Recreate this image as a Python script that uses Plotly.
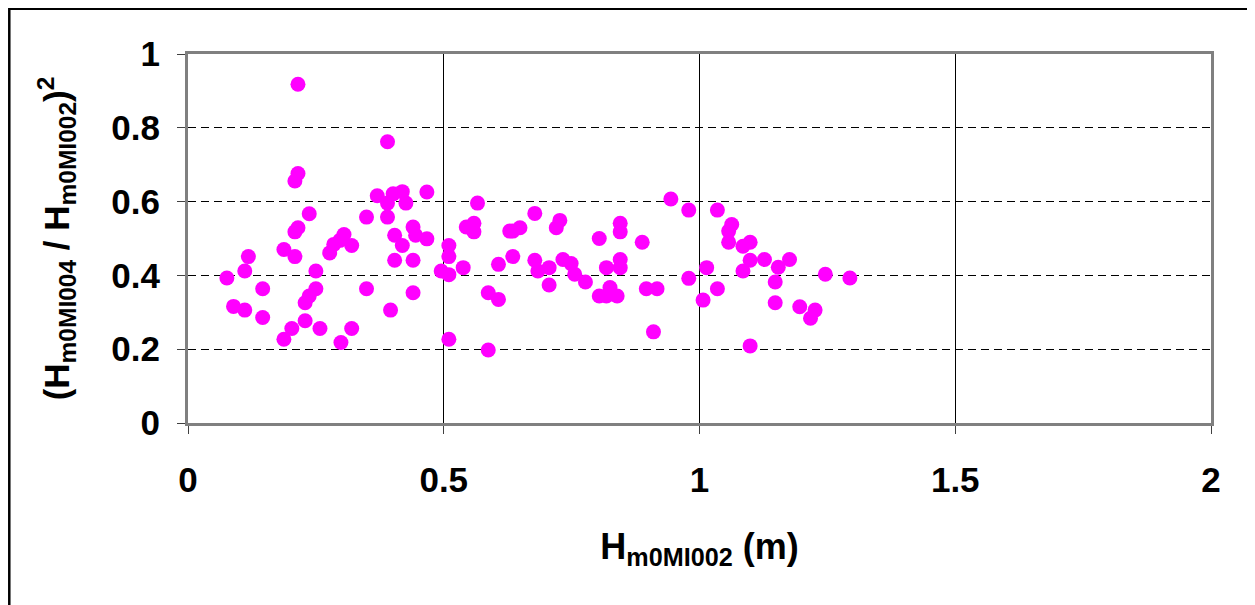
import plotly.graph_objects as go

# Data
h_m0mi002 = [0.215, 0.390, 0.215, 0.209, 0.370, 0.401, 0.419, 0.390, 0.426, 0.467,
             0.566, 0.237, 0.349, 0.390, 0.215, 0.209, 0.440, 0.445, 0.467, 0.404,
             0.419, 0.544, 0.559, 0.559, 0.1875, 0.209, 0.118, 0.111, 0.076, 0.146,
             0.089, 0.111, 0.146, 0.1875, 0.203, 0.229, 0.229, 0.237, 0.250, 0.250,
             0.258, 0.277, 0.285, 0.297, 0.305, 0.320, 0.299, 0.320, 0.349, 0.396,
             0.404, 0.440, 0.440, 0.510, 0.510, 0.495, 0.510, 0.538, 0.510, 0.587,
             0.607, 0.587, 0.607, 0.629, 0.635, 0.649, 0.635, 0.678, 0.678, 0.684,
             0.706, 0.706, 0.727, 0.720, 0.733, 0.749, 0.756, 0.777, 0.804, 0.804,
             0.818, 0.825, 0.839, 0.818, 0.845, 0.845, 0.845, 0.845, 0.888, 0.896,
             0.917, 0.910, 0.944, 0.979, 0.979, 1.014, 1.007, 1.035, 1.035, 1.063,
             1.057, 1.057, 1.085, 1.099, 1.099, 1.085, 1.099, 1.127, 1.154, 1.176,
             1.148, 1.148, 1.196, 1.226, 1.217, 1.246, 1.294]
ratio_sq = [0.918, 0.762, 0.676, 0.656, 0.616, 0.621, 0.627, 0.596, 0.596, 0.626,
            0.596, 0.567, 0.558, 0.558, 0.529, 0.518, 0.531, 0.509, 0.499, 0.509,
            0.481, 0.531, 0.541, 0.518, 0.470, 0.451, 0.451, 0.412, 0.393, 0.364,
            0.316, 0.306, 0.286, 0.227, 0.256, 0.277, 0.326, 0.344, 0.364, 0.412,
            0.256, 0.461, 0.484, 0.495, 0.511, 0.481, 0.218, 0.256, 0.364, 0.306,
            0.441, 0.441, 0.353, 0.481, 0.451, 0.412, 0.402, 0.421, 0.227, 0.353,
            0.335, 0.198, 0.430, 0.520, 0.520, 0.529, 0.451, 0.568, 0.441, 0.412,
            0.421, 0.374, 0.549, 0.529, 0.443, 0.432, 0.403, 0.382, 0.500, 0.344,
            0.344, 0.367, 0.344, 0.421, 0.541, 0.518, 0.443, 0.421, 0.490, 0.364,
            0.364, 0.247, 0.607, 0.577, 0.392, 0.421, 0.333, 0.577, 0.364, 0.538,
            0.520, 0.490, 0.479, 0.490, 0.441, 0.412, 0.209, 0.443, 0.422, 0.443,
            0.382, 0.326, 0.315, 0.306, 0.284, 0.403, 0.393]

x_ticks = [0, 0.5, 1, 1.5, 2]
x_tick_labels = ["0", "0.5", "1", "1.5", "2"]
y_ticks = [0, 0.2, 0.4, 0.6, 0.8, 1]
y_tick_labels = ["0", "0.2", "0.4", "0.6", "0.8", "1"]

W, H = 1255, 605
# the page draws the figure with an 8px body offset; margins account for it
OFF = 8
L, T = 188 - OFF, 53.5 - OFF
R = W - (1211.5 - OFF)
B = H - (423.5 - OFF)
pw, ph = W - L - R, H - T - B

FONT = "Liberation Sans, Arial, sans-serif"

fig = go.Figure(go.Scatter(
    x=h_m0mi002, y=ratio_sq, mode="markers",
    marker=dict(color="#FF00FF", size=15, line=dict(width=0)),
    showlegend=False, cliponaxis=False,
))

def fx(p):  # figure pixel -> paper x
    return (p - L) / pw

def fy(p):  # figure pixel (from top) -> paper y
    return (H - B - p) / ph

fig.update_layout(
    width=W, height=H,
    margin=dict(l=L, r=R, t=T, b=B, pad=0),
    paper_bgcolor="white", plot_bgcolor="white",
    font=dict(family=FONT, color="black", size=35, weight="bold"),
    shapes=[dict(type="rect", xref="paper", yref="paper",
                 x0=fx(1.2), x1=fx(W + 20),
                 y0=fy(H + 20), y1=fy(0.2),
                 line=dict(color="black", width=2.5), fillcolor="rgba(0,0,0,0)",
                 layer="below")],
)

fig.update_xaxes(
    range=[0, 2], tickvals=x_ticks, ticktext=x_tick_labels,
    showgrid=True, gridcolor="black", gridwidth=1,
    zeroline=False,
    showline=True, linecolor="#808080", linewidth=3, mirror=True,
    ticks="outside", ticklen=8, tickcolor="#404040", tickwidth=1,
    ticklabelstandoff=16,
    tickfont=dict(size=35, family=FONT, weight="bold"),
    title=dict(text="H<sub>m0MI002</sub> (m)", standoff=36,
               font=dict(size=36, family=FONT, weight="bold")),
)
fig.update_yaxes(
    range=[0, 1], tickvals=y_ticks, ticktext=y_tick_labels,
    showgrid=True, gridcolor="black", gridwidth=1, griddash="8px,5px",
    zeroline=False,
    showline=True, linecolor="#808080", linewidth=3, mirror=True,
    ticks="outside", ticklen=8, tickcolor="#404040", tickwidth=1,
    ticklabelstandoff=10,
    tickfont=dict(size=35, family=FONT, weight="bold"),
    title=dict(text="(H<sub>m0MI004</sub> / H<sub>m0MI002</sub>)<sup>2</sup>", standoff=32,
               font=dict(size=35, family=FONT, weight="bold")),
)

fig.write_html("out.html")
